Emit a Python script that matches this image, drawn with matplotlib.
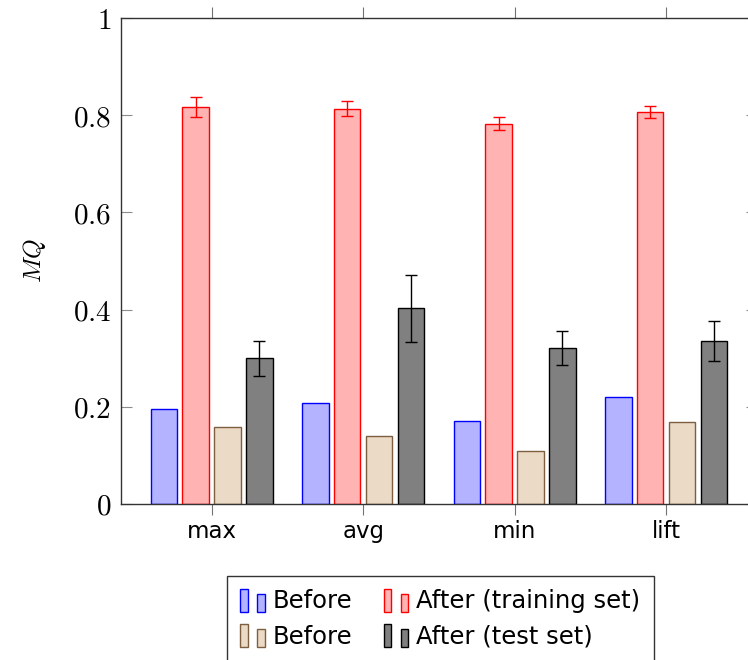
import matplotlib
matplotlib.use("Agg")
import matplotlib.pyplot as plt
from matplotlib.legend_handler import HandlerBase
from matplotlib.patches import Rectangle
import numpy as np

plt.rcParams['font.family'] = ['DejaVu Sans']
plt.rcParams['mathtext.fontset'] = 'cm'

# measures on the x axis
categories = ['max', 'avg', 'min', 'lift']

# MQ per measure
before_train = [0.195, 0.207, 0.170, 0.219]
after_train = [0.817, 0.814, 0.783, 0.807]
after_train_err = [0.020, 0.015, 0.014, 0.013]
before_test = [0.158, 0.140, 0.109, 0.169]
after_test = [0.300, 0.403, 0.320, 0.335]
after_test_err = [0.036, 0.069, 0.035, 0.041]

y_ticks = [0, 0.2, 0.4, 0.6, 0.8, 1]
y_tick_labels = ['0', '0.2', '0.4', '0.6', '0.8', '1']


class TwoBarHandler(HandlerBase):
    # pgfplots-style ybar legend image: two little bars side by side
    def create_artists(self, legend, orig_handle, xdescent, ydescent,
                       width, height, fontsize, trans):
        fc = orig_handle.get_facecolor()
        ec = orig_handle.get_edgecolor()
        w = width * 0.3
        x0 = -xdescent
        y0 = -ydescent - height * 0.2
        r1 = Rectangle((x0, y0), w, height * 1.35, facecolor=fc,
                       edgecolor=ec, lw=1.0, transform=trans)
        r2 = Rectangle((x0 + width * 0.68, y0), w, height * 1.05, facecolor=fc,
                       edgecolor=ec, lw=1.0, transform=trans)
        return [r1, r2]


fig = plt.figure(figsize=(7.48, 6.6), dpi=100)
ax = fig.add_axes([0.1614, 0.2368, 0.8507, 0.7355])

x = np.arange(len(categories))
bw = 0.175
step = 0.21

b1 = ax.bar(x - 1.5 * step, before_train, bw, color='#b3b3ff',
            edgecolor='blue', lw=1.0, zorder=2)
b2 = ax.bar(x - 0.5 * step, after_train, bw, color='#ffb3b3',
            edgecolor='red', lw=1.0, zorder=2,
            yerr=after_train_err,
            error_kw=dict(ecolor='red', elinewidth=1.0, capsize=4, capthick=1.0))
b3 = ax.bar(x + 0.5 * step, before_test, bw, color='#ebdac6',
            edgecolor='#7d5f3f', lw=1.0, zorder=2)
b4 = ax.bar(x + 1.5 * step, after_test, bw, color='#808080',
            edgecolor='black', lw=1.0, zorder=2,
            yerr=after_test_err,
            error_kw=dict(ecolor='black', elinewidth=1.0, capsize=4, capthick=1.0))

ax.set_xlim(-0.6, 3.6)
ax.set_ylim(0, 1)
ax.set_xticks(x)
ax.set_xticklabels(categories, fontsize=16.5)
ax.set_yticks(y_ticks)
ax.set_yticklabels(['$%s$' % t for t in y_tick_labels], fontsize=21)
ax.tick_params(axis='x', direction='out', top=True, bottom=True,
               length=8, width=0.8, color='0.45', pad=3.5)
ax.tick_params(axis='y', direction='in', left=True, right=True,
               length=8, width=0.8, color='0.55', pad=7)
for s in ax.spines.values():
    s.set_linewidth(1.0)
    s.set_color('0.2')
    s.set_zorder(3)

ax.set_ylabel('$MQ$', fontsize=18, labelpad=18)

handles = [b1, b3, b2, b4]
labels = ['Before', 'Before', 'After (training set)', 'After (test set)']
leg = fig.legend([h.patches[0] for h in handles], labels,
                 loc='upper left', bbox_to_anchor=(0.3035, 0.1273),
                 ncol=2, fontsize=17.5, frameon=True, fancybox=False,
                 edgecolor='black', borderaxespad=0, borderpad=0.55,
                 handlelength=1.03, handleheight=0.7, handletextpad=0.3,
                 columnspacing=1.3, labelspacing=0.47,
                 handler_map={Rectangle: TwoBarHandler()})
leg.get_frame().set_linewidth(1.0)

fig.savefig('out.png', dpi=100)
